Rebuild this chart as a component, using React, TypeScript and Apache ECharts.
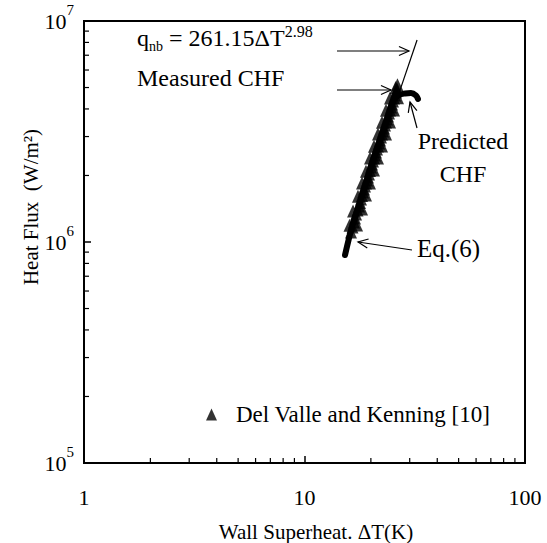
import React, { useEffect, useRef } from 'react';
import * as echarts from 'echarts';

const FONT = 'Liberation Serif, Times New Roman, serif';

// Del Valle and Kenning [10] measured points (ΔT in K, q in W/m²)
const dvkDT = [
  16.25, 16.77, 17.13, 17.67, 18.04, 18.42, 18.81, 19.2, 19.61, 20.02, 20.45, 20.87, 21.32, 21.77, 22.23, 22.7, 23.18, 23.67, 24.17, 24.68, 25.2, 25.73, 26.27,
  16.51, 16.95, 17.4, 17.85, 18.23, 18.61, 19.0, 19.4, 19.81, 20.23, 20.66, 21.09, 21.54, 22.0, 22.46, 22.94, 23.42, 23.92, 24.42, 24.94, 25.46, 26.0,
  17.31, 18.24, 19.01, 19.81, 20.66, 21.54, 22.47, 23.43, 24.43, 25.47, 26.55,
  16.6, 17.48, 18.23, 19.0, 19.82, 20.66, 21.54, 22.46, 23.42, 24.42,
  16.0, 25.9, 26.4,
];
const dvkQ = [
  1.11e6, 1.232e6, 1.339e6, 1.455e6, 1.565e6, 1.684e6, 1.792e6, 1.908e6, 2.031e6, 2.185e6, 2.326e6, 2.476e6, 2.635e6, 2.806e6, 2.987e6, 3.179e6, 3.383e6, 3.603e6, 3.834e6, 4.082e6, 4.345e6, 4.626e6, 4.924e6,
  1.169e6, 1.284e6, 1.396e6, 1.509e6, 1.623e6, 1.737e6, 1.849e6, 1.969e6, 2.107e6, 2.254e6, 2.4e6, 2.554e6, 2.719e6, 2.895e6, 3.081e6, 3.279e6, 3.491e6, 3.717e6, 3.956e6, 4.211e6, 4.483e6, 4.773e6,
  1.195e6, 1.41e6, 1.63e6, 1.85e6, 2.12e6, 2.4e6, 2.72e6, 3.08e6, 3.49e6, 3.96e6, 4.49e6,
  1.38e6, 1.61e6, 1.85e6, 2.09e6, 2.4e6, 2.71e6, 3.08e6, 3.48e6, 3.95e6, 4.48e6,
  1.19e6, 5.0e6, 5.15e6,
];

// Eq.(6) prediction curve
const eq6DT = [15.27, 16.42, 18.42, 20.45, 23.67, 25.2, 26.83, 28.56, 30.4, 32.04, 32.7];
const eq6Q = [8.73e5, 1.17e6, 1.67e6, 2.35e6, 3.56e6, 4.345e6, 4.63e6, 4.7e6, 4.72e6, 4.6e6, 4.44e6];

// q_nb = 261.15 ΔT^2.98 line
const qnbDT = [26.5, 32.4];
const qnbQ = [4.55e6, 8.2e6];

// tick labels / minor ticks
const xTickLabels = ['1', '10', '100'];
const yTickExponents = ['5', '6', '7'];
const xMinorTicks = [2, 3, 4, 5, 6, 7, 8, 9, 20, 30, 40, 50, 60, 70, 80, 90];
const yMinorTicks = [2e5, 3e5, 4e5, 5e5, 6e5, 7e5, 8e5, 9e5, 2e6, 3e6, 4e6, 5e6, 6e6, 7e6, 8e6, 9e6];

function arrow(x1: number, y1: number, x2: number, y2: number) {
  const ang = Math.atan2(y2 - y1, x2 - x1);
  const L = 11;
  const a = 0.42;
  const p1 = [x2 - L * Math.cos(ang - a), y2 - L * Math.sin(ang - a)];
  const p2 = [x2 - L * Math.cos(ang + a), y2 - L * Math.sin(ang + a)];
  return [
    { type: 'line', shape: { x1, y1, x2, y2 }, style: { stroke: '#000', lineWidth: 1.2 } },
    { type: 'polyline', shape: { points: [p1, [x2, y2], p2] }, style: { stroke: '#000', lineWidth: 1.2, fill: null } },
  ];
}

export default function App() {
  const ref = useRef<HTMLDivElement>(null);
  useEffect(() => {
    const chart = echarts.init(ref.current!, null, { renderer: 'svg' });
    const option: any = {
      animation: false,
      backgroundColor: '#fff',
      textStyle: { fontFamily: FONT },
      grid: { left: 84, top: 21, width: 441, height: 442, show: true, borderColor: '#000', borderWidth: 2, backgroundColor: 'transparent' },
      xAxis: {
        type: 'log', logBase: 10, min: 1, max: 100,
        axisLine: { show: true, lineStyle: { color: '#000', width: 2 } },
        axisTick: { show: true, inside: true, length: 7, lineStyle: { color: '#000', width: 1.5 } },
        axisLabel: {
          fontSize: 22, fontFamily: FONT, color: '#000', margin: 23,
          formatter: (v: number) => xTickLabels[Math.round(Math.log10(v))],
        },
        splitLine: { show: false },
      },
      yAxis: {
        type: 'log', logBase: 10, min: 1e5, max: 1e7,
        axisLine: { show: true, lineStyle: { color: '#000', width: 2 } },
        axisTick: { show: true, inside: true, length: 7, lineStyle: { color: '#000', width: 1.5 } },
        axisLabel: {
          color: '#000', margin: 10,
          formatter: (v: number) => `{b|10}{s|${yTickExponents[Math.round(Math.log10(v)) - 5]}}`,
          rich: {
            b: { fontSize: 22, fontFamily: FONT, color: '#000', lineHeight: 38 },
            s: { fontSize: 15, fontFamily: FONT, color: '#000', verticalAlign: 'top' },
          },
        },
        splitLine: { show: false },
      },
      legend: {
        left: 206, top: 403, padding: 0,
        itemWidth: 11, itemHeight: 12, icon: 'triangle',
        data: ['Del Valle and Kenning [10]'],
        textStyle: { fontSize: 23, fontFamily: FONT, color: '#000', padding: [0, 0, 18, 14] },
      },
      series: [
        {
          name: 'Eq.(6)', type: 'line', data: eq6DT.map((d, i) => [d, eq6Q[i]]),
          showSymbol: false, smooth: 0.3, lineStyle: { color: '#000', width: 6, cap: 'round' }, z: 3,
        },
        {
          name: 'Del Valle and Kenning [10]', type: 'scatter', data: dvkDT.map((d, i) => [d, dvkQ[i]]),
          symbol: 'triangle', symbolSize: [12, 13], itemStyle: { color: '#000' }, z: 4,
        },
        {
          name: 'q_nb', type: 'line', data: qnbDT.map((d, i) => [d, qnbQ[i]]),
          showSymbol: false, lineStyle: { color: '#000', width: 1.2 }, z: 2,
        },
        {
          name: 'xminor', type: 'custom', silent: true, clip: false,
          data: xMinorTicks.map((v) => [v, 1e5]),
          renderItem: (_p: any, api: any) => {
            const p = api.coord([api.value(0), api.value(1)]);
            return { type: 'line', shape: { x1: p[0], y1: p[1], x2: p[0], y2: p[1] - 5 }, style: { stroke: '#000', lineWidth: 1.2 } };
          },
        },
        {
          name: 'yminor', type: 'custom', silent: true, clip: false,
          data: yMinorTicks.map((v) => [1, v]),
          renderItem: (_p: any, api: any) => {
            const p = api.coord([api.value(0), api.value(1)]);
            return { type: 'line', shape: { x1: p[0], y1: p[1], x2: p[0] + 5, y2: p[1] }, style: { stroke: '#000', lineWidth: 1.2 } };
          },
        },
      ],
      graphic: [
        {
          type: 'text', x: 137, y: 38,
          style: {
            text: '{m|q}{sub|nb}{m| = 261.15ΔT}{sup|2.98}',
            align: 'left', verticalAlign: 'middle',
            rich: {
              m: { fontSize: 24, fontFamily: FONT, fill: '#000', lineHeight: 30 },
              sub: { fontSize: 14, fontFamily: FONT, fill: '#000', verticalAlign: 'bottom' },
              sup: { fontSize: 16, fontFamily: FONT, fill: '#000', verticalAlign: 'top' },
            },
          },
        },
        { type: 'text', x: 137, y: 78, style: { text: 'Measured CHF', fontSize: 24, fontFamily: FONT, fill: '#000', align: 'left', verticalAlign: 'middle' } },
        { type: 'text', x: 463, y: 157, style: { text: 'Predicted\nCHF', fontSize: 24, fontFamily: FONT, fill: '#000', align: 'center', verticalAlign: 'middle', lineHeight: 33 } },
        { type: 'text', x: 417, y: 248, style: { text: 'Eq.(6)', fontSize: 25, fontFamily: FONT, fill: '#000', align: 'left', verticalAlign: 'middle' } },
        { type: 'text', x: 31, y: 207, rotation: Math.PI / 2, style: { text: 'Heat Flux  (W/m²)', fontSize: 21, fontFamily: FONT, fill: '#000', align: 'center', verticalAlign: 'middle' } },
        { type: 'text', x: 316, y: 532, style: { text: 'Wall Superheat. ΔT(K)', fontSize: 21, fontFamily: FONT, fill: '#000', align: 'center', verticalAlign: 'middle' } },
        ...arrow(337, 51, 409, 51),
        ...arrow(337, 90, 391, 90),
        ...arrow(417, 128, 410, 102),
        ...arrow(412, 250, 358, 242),
      ],
    };
    chart.setOption(option);
    return () => chart.dispose();
  }, []);
  return <div ref={ref} style={{ position: 'fixed', left: 0, top: 0, width: 547, height: 543, background: '#fff' }} />;
}
